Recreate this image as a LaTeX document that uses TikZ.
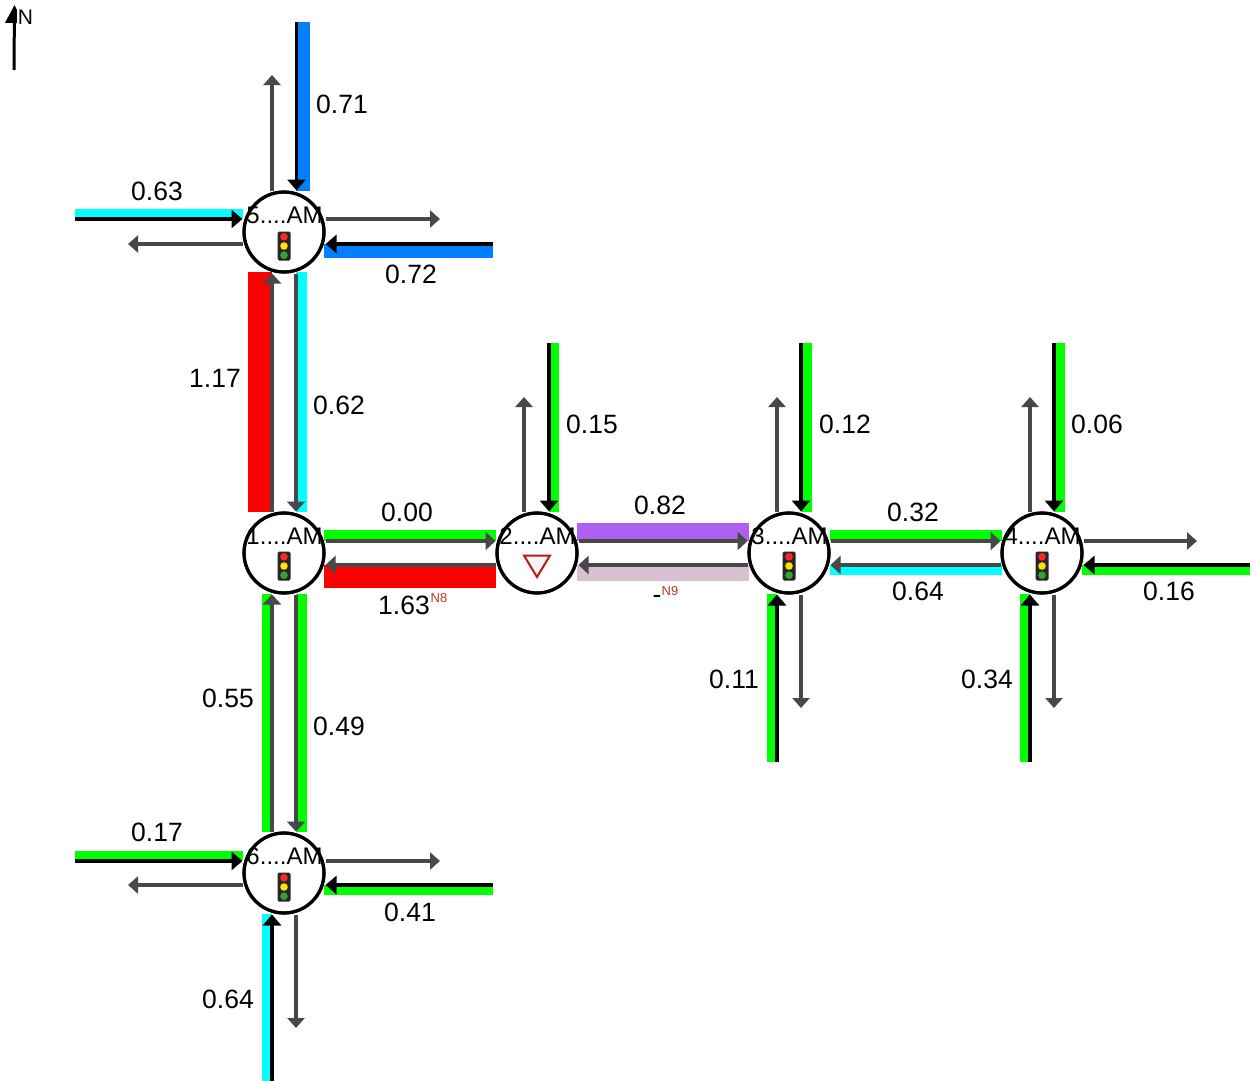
\documentclass[tikz,border=0pt]{standalone}
\usepackage{fontspec}
\setmainfont{Liberation Sans}
\usetikzlibrary{arrows.meta}
\definecolor{bblue}{HTML}{0080FF}
\definecolor{bcyan}{HTML}{00FFFF}
\definecolor{bgreen}{HTML}{00FF00}
\definecolor{bred}{HTML}{FF0000}
\definecolor{bpurple}{HTML}{B060F0}
\definecolor{bmauve}{HTML}{D8C0D0}
\definecolor{grayline}{HTML}{484848}
\definecolor{noteclr}{HTML}{B83A1A}
\tikzset{
  x=1pt,y=-1pt,
  junction/.style={circle,draw=black,line width=3pt,fill=white,minimum size=80pt,inner sep=0pt},
  jlabel/.style={font=\fontsize{24}{24}\selectfont,inner sep=0pt,text=black,yshift=0.5pt},
  vol/.style={font=\fontsize{26.5}{26.5}\selectfont,inner sep=0pt,text=black,yshift=0.7pt},
  note/.style={font=\fontsize{13}{13}\selectfont,inner sep=0pt,text=noteclr},
  outarrow/.style={draw=grayline,line width=3.5pt,-{Triangle[length=10pt,width=17pt]}},
  inarrow/.style={draw=black,line width=3.3pt,-{Triangle[length=11pt,width=18pt]}},
  linkarrow/.style={draw=grayline,line width=4pt,-{Triangle[length=10pt,width=18pt]}},
}
\newcommand{\lamp}[2]{%
  \fill[black!85,rounded corners=1.5pt] (#1-6.5,#2-14.5) rectangle (#1+6.5,#2+14.5);
  \fill[red!85] (#1,#2-9.2) circle (3.8);
  \fill[yellow!85!orange] (#1,#2) circle (3.8);
  \fill[green!55!black!80!white] (#1,#2+9.2) circle (3.8);
}
\begin{document}
\begin{tikzpicture}
\useasboundingbox (0,0) rectangle (1250,1081);
\fill[white] (0,0) rectangle (1250,1081);

% coloured bands
\fill[bblue] (296,22) rectangle (310,191);
\fill[bcyan] (75,209) rectangle (243,218);
\fill[bblue] (324,244) rectangle (493,258);
\fill[bred] (248,272) rectangle (272,512);
\fill[bcyan] (296,272) rectangle (307,512);
\fill[bgreen] (324,530) rectangle (496,541);
\fill[bred] (324,565) rectangle (496,588);
\fill[bpurple] (577,523) rectangle (749,541);
\fill[bmauve] (577,565) rectangle (749,581);
\fill[bgreen] (830,530) rectangle (1002,541);
\fill[bcyan] (830,565) rectangle (1002,575);
\fill[bgreen] (1082,565) rectangle (1250,575);
\fill[bgreen] (549,343) rectangle (559,512);
\fill[bgreen] (801,343) rectangle (812,512);
\fill[bgreen] (1054,343) rectangle (1065,512);
\fill[bgreen] (767,594) rectangle (777,762);
\fill[bgreen] (1020,594) rectangle (1030,762);
\fill[bgreen] (262,594) rectangle (272,832);
\fill[bgreen] (296,594) rectangle (307,832);
\fill[bgreen] (75,851) rectangle (243,860);
\fill[bgreen] (324,885) rectangle (493,895);
\fill[bcyan] (262,914) rectangle (272,1081);

% junctions
\node[junction] (n5) at (284,232) {};
\node[junction] (n1) at (284,553) {};
\node[junction] (n2) at (537,553) {};
\node[junction] (n3) at (789,553) {};
\node[junction] (n4) at (1042,553) {};
\node[junction] (n6) at (284,873) {};

% free ends
\coordinate (e5n) at (296.5,22);   \coordinate (x5n) at (272,75);
\coordinate (e5w) at (75,219);   \coordinate (x5w) at (128,244);
\coordinate (e5e) at (493,244);  \coordinate (x5e) at (440,219);
\coordinate (e2n) at (549,343);  \coordinate (x2n) at (524,397);
\coordinate (e3n) at (801,343);  \coordinate (x3n) at (777,397);
\coordinate (e4n) at (1054,343); \coordinate (x4n) at (1030,397);
\coordinate (e3s) at (777,762);  \coordinate (x3s) at (801,708);
\coordinate (e4s) at (1030,762); \coordinate (x4s) at (1054,708);
\coordinate (e4e) at (1250,565); \coordinate (x4e) at (1197,541);
\coordinate (e6w) at (75,861);   \coordinate (x6w) at (128,885);
\coordinate (e6e) at (493,885);  \coordinate (x6e) at (440,861);
\coordinate (e6s) at (272,1081); \coordinate (x6s) at (296,1028);
\coordinate (N0) at (14,70);     \coordinate (N1) at (14.5,5);

% links between junctions
\draw[linkarrow] ([xshift=-12pt]n1.north) -- ([xshift=-12pt]n5.south);
\draw[linkarrow] ([xshift=12pt]n5.south) -- ([xshift=12pt]n1.north);
\draw[linkarrow] ([xshift=-12pt]n6.north) -- ([xshift=-12pt]n1.south);
\draw[linkarrow] ([xshift=12pt]n1.south) -- ([xshift=12pt]n6.north);
\draw[linkarrow] ([yshift=12pt]n1.east) -- ([yshift=12pt]n2.west);
\draw[linkarrow] ([yshift=-12pt]n2.west) -- ([yshift=-12pt]n1.east);
\draw[linkarrow] ([yshift=12pt]n2.east) -- ([yshift=12pt]n3.west);
\draw[linkarrow] ([yshift=-12pt]n3.west) -- ([yshift=-12pt]n2.east);
\draw[linkarrow] ([yshift=12pt]n3.east) -- ([yshift=12pt]n4.west);
\draw[linkarrow] ([yshift=-12pt]n4.west) -- ([yshift=-12pt]n3.east);

% incoming approaches
\draw[inarrow] (e5n) -- ([xshift=12.5pt]n5.north);
\draw[inarrow] (e5w) -- ([yshift=13pt]n5.west);
\draw[inarrow] (e5e) -- ([yshift=-12pt]n5.east);
\draw[inarrow] (e2n) -- ([xshift=12pt]n2.north);
\draw[inarrow] (e3n) -- ([xshift=12pt]n3.north);
\draw[inarrow] (e4n) -- ([xshift=12pt]n4.north);
\draw[inarrow] (e3s) -- ([xshift=-12pt]n3.south);
\draw[inarrow] (e4s) -- ([xshift=-12pt]n4.south);
\draw[inarrow] (e4e) -- ([yshift=-12pt]n4.east);
\draw[inarrow] (e6w) -- ([yshift=12pt]n6.west);
\draw[inarrow] (e6e) -- ([yshift=-12pt]n6.east);
\draw[inarrow] (e6s) -- ([xshift=-12pt]n6.south);

% outgoing approaches
\draw[outarrow] ([xshift=-12pt]n5.north) -- (x5n);
\draw[outarrow] ([yshift=-12pt]n5.west) -- (x5w);
\draw[outarrow] ([yshift=13pt]n5.east) -- (x5e);
\draw[outarrow] ([xshift=-13pt]n2.north) -- (x2n);
\draw[outarrow] ([xshift=-12pt]n3.north) -- (x3n);
\draw[outarrow] ([xshift=-12pt]n4.north) -- (x4n);
\draw[outarrow] ([xshift=12pt]n3.south) -- (x3s);
\draw[outarrow] ([xshift=12pt]n4.south) -- (x4s);
\draw[outarrow] ([yshift=12pt]n4.east) -- (x4e);
\draw[outarrow] ([yshift=-12pt]n6.west) -- (x6w);
\draw[outarrow] ([yshift=12pt]n6.east) -- (x6e);
\draw[outarrow] ([xshift=12pt]n6.south) -- (x6s);

% junction circles on top of line ends
\foreach \n in {n1,n2,n3,n4,n5,n6}{\draw[black,line width=3.2pt] (\n) circle (40);}

% junction labels
\node[jlabel] (l5) at (284.5,216) {5....AM};
\node[jlabel] (l1) at (284.5,537) {1....AM};
\node[jlabel] (l2) at (537.5,537) {2....AM};
\node[jlabel] (l3) at (789.5,537) {3....AM};
\node[jlabel] (l4) at (1042.5,537) {4....AM};
\node[jlabel] (l6) at (284.5,857) {6....AM};

% signals
\lamp{284}{246}
\lamp{284}{566}
\lamp{789}{566}
\lamp{1042}{566}
\lamp{284}{887}
\draw[draw=red!70!black!90,fill=gray!8,line width=2pt,line join=miter] (524,555.5) -- (550,555.5) -- (537,577) -- cycle;

% north arrow
\draw[draw=black,line width=3pt,-{Triangle[length=18pt,width=18pt]}] (N0) -- (N1);
\node[font=\fontsize{21}{21}\selectfont,inner sep=0pt,fill=white,minimum width=17pt,minimum height=22pt] (nn) at (25.5,17) {N};

% values
\node[vol] (v1) at (342,105) {0.71};
\node[vol] (v2) at (157,192) {0.63};
\node[vol] (v3) at (411,275) {0.72};
\node[vol] (v4) at (215,379) {1.17};
\node[vol] (v5) at (339,406) {0.62};
\node[vol] (v6) at (592,425) {0.15};
\node[vol] (v7) at (845,425) {0.12};
\node[vol] (v8) at (1097,425) {0.06};
\node[vol] (v9) at (407,513) {0.00};
\node[vol] (v10) at (660,506) {0.82};
\node[vol] (v11) at (913,513) {0.32};
\node[vol] (v12) at (404,606) {1.63};
\node[note] (v12n) at (439,598) {N8};
\node[vol] (v13) at (657,600) {-};
\node[note] (v13n) at (670,591) {N9};
\node[vol] (v14) at (918,592) {0.64};
\node[vol] (v15) at (1169,592) {0.16};
\node[vol] (v16) at (734,680) {0.11};
\node[vol] (v17) at (987,680) {0.34};
\node[vol] (v18) at (228,699) {0.55};
\node[vol] (v19) at (339,727) {0.49};
\node[vol] (v20) at (157,833) {0.17};
\node[vol] (v21) at (410,913) {0.41};
\node[vol] (v22) at (228,1000) {0.64};
\end{tikzpicture}
\end{document}
